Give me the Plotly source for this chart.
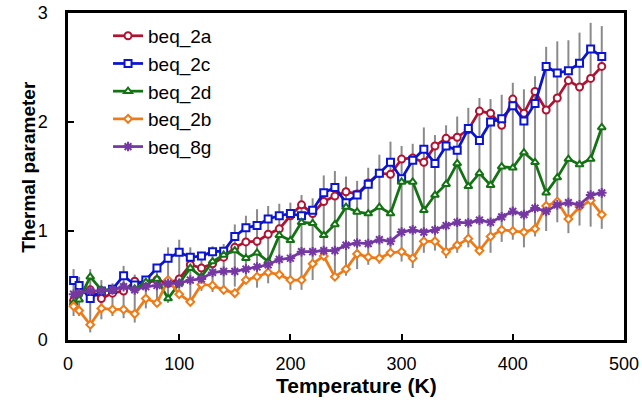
import plotly.graph_objects as go

# Temperature grid (K)
temperature = [5] + list(range(10, 490, 10))

# Thermal parameter series
beq_2a = [0.36, 0.44, 0.46, 0.38, 0.43, 0.45, 0.54, 0.52, 0.55, 0.52,
          0.56, 0.69, 0.66, 0.70, 0.76, 0.85, 0.90, 0.905, 0.97, 1.02,
          1.14, 1.24, 1.16, 1.27, 1.32, 1.36, 1.34, 1.44, 1.53, 1.52,
          1.66, 1.67, 1.63, 1.78, 1.85, 1.86, 1.93, 2.10, 2.08, 1.97,
          2.21, 2.08, 2.28, 2.11, 2.22, 2.38, 2.32, 2.40, 2.51]
beq_2c = [0.545, 0.50, 0.38, 0.45, 0.466, 0.59, 0.505, 0.55, 0.66, 0.75,
          0.805, 0.76, 0.77, 0.81, 0.815, 0.95, 1.03, 1.05, 1.11, 1.14,
          1.16, 1.14, 1.19, 1.35, 1.40, 1.26, 1.33, 1.43, 1.53, 1.63,
          1.48, 1.65, 1.75, 1.62, 1.78, 1.74, 1.94, 1.83, 2.00, 2.03,
          2.15, 2.01, 2.17, 2.51, 2.45, 2.47, 2.54, 2.67, 2.60]
beq_2d = [0.34, 0.37, 0.58, 0.46, 0.46, 0.49, 0.47, 0.53, 0.56, 0.38,
          0.52, 0.66, 0.58, 0.72, 0.78, 0.82, 0.75, 0.80, 0.72, 0.96,
          0.915, 1.08, 1.07, 0.96, 1.06, 1.22, 1.175, 1.16, 1.22, 1.16,
          1.45, 1.45, 1.19, 1.33, 1.43, 1.62, 1.41, 1.53, 1.42, 1.59,
          1.58, 1.72, 1.63, 1.35, 1.49, 1.66, 1.61, 1.66, 1.95]
beq_2b = [0.31, 0.27, 0.14, 0.29, 0.28, 0.28, 0.24, 0.38, 0.34, 0.55,
          0.42, 0.35, 0.51, 0.50, 0.46, 0.43, 0.55, 0.58, 0.62, 0.60,
          0.55, 0.55, 0.70, 0.77, 0.58, 0.65, 0.79, 0.76, 0.75, 0.80,
          0.81, 0.75, 0.905, 0.905, 0.81, 0.87, 0.93, 0.82, 0.95, 1.01,
          1.00, 0.99, 1.02, 1.23, 1.27, 1.11, 1.22, 1.28, 1.15]
beq_8g = [0.42, 0.43, 0.45, 0.45, 0.46, 0.49, 0.46, 0.49, 0.50, 0.52,
          0.52, 0.55, 0.56, 0.62, 0.63, 0.63, 0.65, 0.67, 0.69, 0.74,
          0.75, 0.81, 0.81, 0.82, 0.82, 0.87, 0.89, 0.885, 0.92, 0.905,
          0.99, 1.01, 0.99, 1.01, 1.05, 1.08, 1.075, 1.10, 1.08, 1.13,
          1.18, 1.15, 1.21, 1.18, 1.24, 1.26, 1.24, 1.33, 1.35]

# Spread (lower / upper limits) shown as grey bars
spread_low = [0.22, 0.22, 0.07, 0.19, 0.22, 0.20, 0.16, 0.29, 0.32, 0.34,
              0.43, 0.32, 0.45, 0.44, 0.43, 0.49, 0.55, 0.48, 0.52, 0.60,
              0.46, 0.46, 0.55, 0.77, 0.62, 0.59, 0.65, 0.69, 0.70, 0.81,
              0.72, 0.66, 0.80, 0.82, 0.75, 0.80, 0.85, 0.85, 0.80, 0.90,
              0.92, 0.85, 0.95, 1.00, 1.08, 0.98, 1.05, 1.04, 1.02]
spread_high = [0.65, 0.58, 0.65, 0.55, 0.52, 0.68, 0.60, 0.58, 0.66, 0.85,
               0.92, 0.85, 0.81, 0.86, 0.88, 1.06, 1.14, 1.20, 1.23, 1.25,
               1.26, 1.33, 1.30, 1.51, 1.55, 1.50, 1.46, 1.58, 1.70, 1.82,
               1.78, 1.80, 1.95, 1.88, 1.97, 2.05, 2.13, 2.22, 2.21, 2.25,
               2.36, 2.30, 2.42, 2.69, 2.74, 2.75, 2.82, 2.91, 2.88]

FONT = "Liberation Sans, Arial, sans-serif"

mid = [(lo + hi) / 2 for lo, hi in zip(spread_low, spread_high)]
half = [(hi - lo) / 2 for lo, hi in zip(spread_low, spread_high)]

fig = go.Figure()

# grey spread bars, drawn underneath the series
fig.add_trace(go.Scatter(
    x=temperature, y=mid, mode="markers",
    marker=dict(size=1, color="rgba(0,0,0,0)"),
    error_y=dict(type="data", array=half, symmetric=True,
                 color="#8a8a8a", thickness=2, width=0),
    showlegend=False, hoverinfo="skip",
))

series = [
    ("beq_2a", beq_2a, "#B01232", "circle", 7),
    ("beq_2c", beq_2c, "#0A14D2", "square", 7),
    ("beq_2d", beq_2d, "#137313", "triangle-up", 7),
    ("beq_2b", beq_2b, "#EE7A18", "diamond", 6),
]
for name, vals, color, symbol, size in series:
    fig.add_trace(go.Scatter(
        x=temperature, y=vals, name=name, mode="lines+markers",
        line=dict(color=color, width=2.75),
        marker=dict(symbol=symbol, size=size, color="white",
                    line=dict(color=color, width=2)),
    ))

fig.add_trace(go.Scatter(
    x=temperature, y=beq_8g, name="beq_8g", mode="lines+markers",
    line=dict(color="#7538A2", width=2.75),
    marker=dict(symbol="asterisk-open", size=8, color="#7538A2",
                line=dict(color="#7538A2", width=2)),
))

axis_common = dict(
    showline=True, linecolor="black", linewidth=2.5, mirror=True,
    ticks="inside", ticklen=6, tickwidth=2, tickcolor="black",
    showgrid=False, zeroline=False, automargin=False,
    tickfont=dict(family=FONT, size=18, color="black"),
)

fig.update_xaxes(range=[0, 500], dtick=100, ticklabelstandoff=6, **axis_common)
fig.update_yaxes(range=[0, 3], dtick=1, ticklabelstandoff=14, **axis_common)

fig.update_layout(
    width=642, height=406,
    margin=dict(l=68, r=18, t=13, b=65.5, pad=0, autoexpand=False),
    paper_bgcolor="white", plot_bgcolor="white",
    font=dict(family=FONT, color="black"),
    legend=dict(x=0.072, y=0.988, xanchor="left", yanchor="top",
                bgcolor="rgba(0,0,0,0)", font=dict(family=FONT, size=19),
                tracegroupgap=0, itemwidth=30),
    annotations=[
        dict(text="<b>Temperature (K)</b>", xref="paper", yref="paper",
             x=0.518, y=-0.14, xanchor="center", yanchor="middle",
             showarrow=False, font=dict(family=FONT, size=21)),
        dict(text="<b>Thermal parameter</b>", xref="paper", yref="paper",
             x=-0.070, y=0.53, xanchor="center", yanchor="middle",
             textangle=-90, showarrow=False, font=dict(family=FONT, size=19)),
    ],
)

fig.write_html("out.html")
